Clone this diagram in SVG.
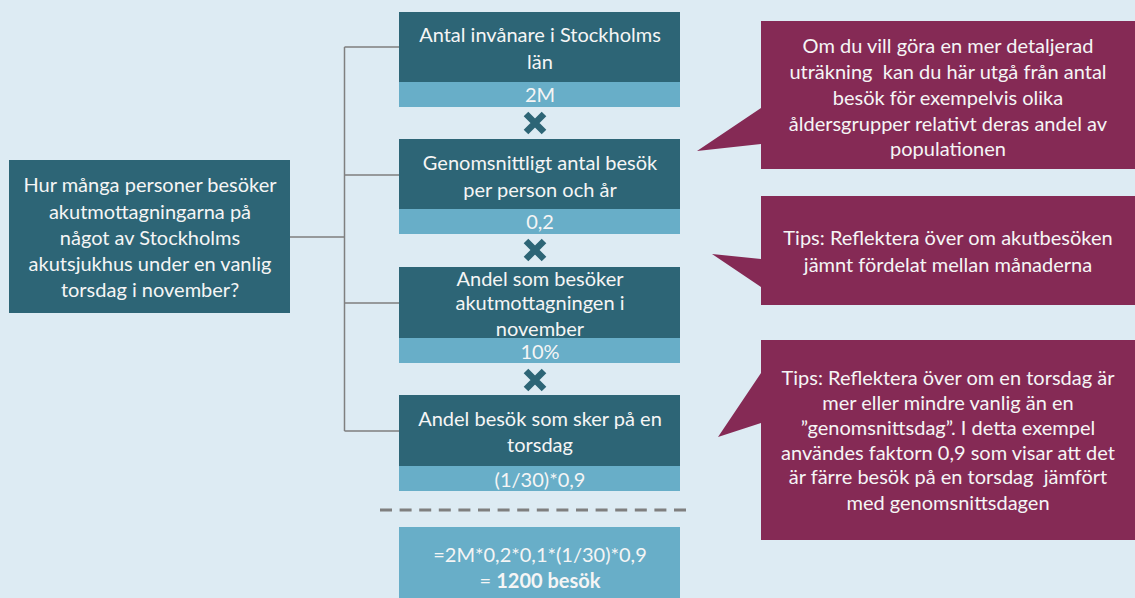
<svg xmlns="http://www.w3.org/2000/svg" width="1135" height="598" viewBox="0 0 1135 598">
<style>
.bg{fill:#DDEBF3}
.dark{fill:#2D6576}
.light{fill:#68AEC8}
.tip{fill:#852A55}
.t{font-family:Lato,"Liberation Sans",sans-serif;font-size:20px;fill:#F5F5F5;text-anchor:middle;white-space:pre}
.conn{stroke:#7F7F7F;stroke-width:1.5;fill:none}
.cross{stroke:#2D6576;stroke-width:6.5;stroke-linecap:butt}
</style>
<defs>
<g id="x"><path class="cross" d="M-9,-9 L9,9 M9,-9 L-9,9"/></g>
</defs>
<rect class="bg" x="0" y="0" width="1135" height="598"/>
<g id="connectors">
<path class="conn" d="M290,237 H344.5 M344.5,47 V431 M344.5,47 H399 M344.5,175 H399 M344.5,303 H399 M344.5,431 H399"/>
<line x1="380" y1="510" x2="693" y2="510" stroke="#7F7F7F" stroke-width="3" stroke-dasharray="12,7.6"/>
</g>
<g id="question">
<rect class="dark" x="9" y="160" width="281" height="153"/>
<text class="t"><tspan x="150" y="192">Hur många personer besöker</tspan><tspan x="150" y="219">akutmottagningarna på</tspan><tspan x="150" y="245">något av Stockholms</tspan><tspan x="150" y="271">akutsjukhus under en vanlig</tspan><tspan x="150" y="297">torsdag i november?</tspan></text>
</g>
<g id="box1">
<rect class="dark" x="399" y="12" width="281" height="70"/>
<rect class="light" x="399" y="82" width="281" height="25"/>
<text class="t"><tspan x="540" y="42">Antal invånare i Stockholms</tspan><tspan x="540" y="69">län</tspan></text>
<text class="t" x="540" y="102">2M</text>
</g>
<use href="#x" x="535" y="123"/>
<g id="box2">
<rect class="dark" x="399" y="139" width="281" height="70"/>
<rect class="light" x="399" y="209" width="281" height="25"/>
<text class="t"><tspan x="540" y="170">Genomsnittligt antal besök</tspan><tspan x="540" y="197">per person och år</tspan></text>
<text class="t" x="540" y="229">0,2</text>
</g>
<use href="#x" x="535" y="250"/>
<g id="box3">
<rect class="dark" x="399" y="267" width="281" height="71"/>
<rect class="light" x="399" y="338" width="281" height="25"/>
<text class="t"><tspan x="540" y="286">Andel som besöker</tspan><tspan x="540" y="310">akutmottagningen i</tspan><tspan x="540" y="336">november</tspan></text>
<text class="t" x="540" y="359">10%</text>
</g>
<use href="#x" x="535" y="380"/>
<g id="box4">
<rect class="dark" x="399" y="395" width="281" height="71"/>
<rect class="light" x="399" y="466" width="281" height="25"/>
<text class="t"><tspan x="540" y="426">Andel besök som sker på en</tspan><tspan x="540" y="452">torsdag</tspan></text>
<text class="t" x="540" y="487">(1/30)*0,9</text>
</g>
<g id="result">
<rect class="light" x="399" y="527" width="281" height="71"/>
<text class="t"><tspan x="540" y="562">=2M*0,2*0,1*(1/30)*0,9</tspan><tspan x="540" y="588">= <tspan font-weight="bold">1200 besök</tspan></tspan></text>
</g>
<g id="tip1">
<path class="tip" d="M761,21 H1135 V169 H761 V144 L697,151 L761,108 Z"/>
<text class="t"><tspan x="948" y="53">Om du vill göra en mer detaljerad</tspan><tspan x="948" y="79">uträkning  kan du här utgå från antal</tspan><tspan x="948" y="105">besök för exempelvis olika</tspan><tspan x="948" y="131">åldersgrupper relativt deras andel av</tspan><tspan x="948" y="156">populationen</tspan></text>
</g>
<g id="tip2">
<path class="tip" d="M761,196 H1135 V305 H761 V287 L712,254 L761,259 Z"/>
<text class="t"><tspan x="948" y="245">Tips: Reflektera över om akutbesöken</tspan><tspan x="948" y="272">jämnt fördelat mellan månaderna</tspan></text>
</g>
<g id="tip3">
<path class="tip" d="M761,340 H1135 V540 H761 V423 L718,437 L761,373 Z"/>
<text class="t"><tspan x="948" y="385">Tips: Reflektera över om en torsdag är</tspan><tspan x="948" y="410">mer eller mindre vanlig än en</tspan><tspan x="948" y="435">”genomsnittsdag”. I detta exempel</tspan><tspan x="948" y="460">användes faktorn 0,9 som visar att det</tspan><tspan x="948" y="484">är färre besök på en torsdag  jämfört</tspan><tspan x="948" y="510">med genomsnittsdagen</tspan></text>
</g>
</svg>
